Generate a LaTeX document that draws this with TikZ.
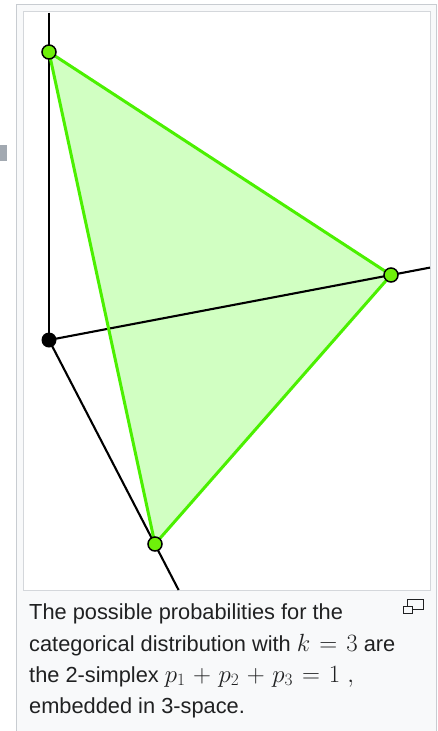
\documentclass[tikz,border=0pt]{standalone}
\usepackage{fontspec}
\setmainfont{Liberation Sans}
\definecolor{panelbg}{HTML}{F8F9FA}
\definecolor{panelborder}{HTML}{C8CCD1}
\definecolor{frameborder}{HTML}{D4D7DB}
\definecolor{textcol}{HTML}{202122}
\definecolor{simfill}{RGB}{204,255,188}
\definecolor{simedge}{RGB}{75,240,0}
\definecolor{vertfill}{RGB}{110,240,10}
\definecolor{sidebox}{HTML}{A2A9B1}
\newcommand{\capmath}[1]{{\fontsize{25}{31}\selectfont$#1$}}
\newcommand{\wop}[1]{\mskip1.5mu#1\mskip1.5mu}
\tikzset{
  axis/.style={draw=black, line width=2.1pt},
  edge/.style={draw=simedge, line width=3pt, line join=round},
  gvert/.style={circle, draw=black, line width=1.5pt, fill=vertfill, minimum size=14pt, inner sep=0pt},
  bvert/.style={circle, fill=black, minimum size=15pt, inner sep=0pt},
  captxt/.style={anchor=base west, inner sep=0pt, text=textcol, font=\fontsize{21.8}{31}\selectfont}
}
\begin{document}
\begin{tikzpicture}[x=1pt,y=-1pt]
\useasboundingbox (0,0) rectangle (438,731);
\fill[white] (0,0) rectangle (438,731);
% side marker
\fill[sidebox] (0,145) rectangle (7,161);
% panel
\filldraw[fill=panelbg, draw=panelborder, line width=1pt] (16.5,4.5) -- (436.5,4.5) -- (436.5,735) -- (16.5,735) -- cycle;
% image frame
\filldraw[fill=white, draw=frameborder, line width=1.2pt] (23.5,11.5) rectangle (430.5,590.5);
% geometry
\coordinate (O) at (49,340);
\coordinate (A) at (49,52);
\coordinate (B) at (391,275);
\coordinate (C) at (155,544);
\coordinate (Atop) at (49,12.5);
\coordinate (Bend) at (430,267.6);
\coordinate (Cend) at (178.6,590);
% simplex fill
\fill[simfill, opacity=0.9] (A) -- (B) -- (C) -- cycle;
% axes
\draw[axis] (Atop) -- (O);
\draw[axis] (O) -- (Bend);
\draw[axis] (O) -- (Cend);
% simplex edges
\draw[edge] (A) -- (B) -- (C) -- cycle;
% vertices
\node[bvert] (o) at (O) {};
\node[gvert] (a) at (A) {};
\node[gvert] (b) at (B) {};
\node[gvert] (c) at (C) {};
% caption
\node[captxt] (cap1) at (29,619) {The possible probabilities for the};
\node[captxt] (cap2) at (29,651) {categorical distribution with \capmath{k\wop{=}3} are};
\node[captxt] (cap3) at (29,682) {the 2-simplex \capmath{p_1\wop{+}p_2\wop{+}p_3\wop{=}1\ ,}};
\node[captxt] (cap4) at (29,713) {embedded in 3-space.};
% enlarge icon
\draw[textcol, line width=1.3pt] (407.5,599.5) rectangle (423.5,609.5);
\filldraw[fill=panelbg, draw=textcol, line width=1.3pt] (403.5,606.5) rectangle (412.5,613.5);
\end{tikzpicture}
\end{document}
